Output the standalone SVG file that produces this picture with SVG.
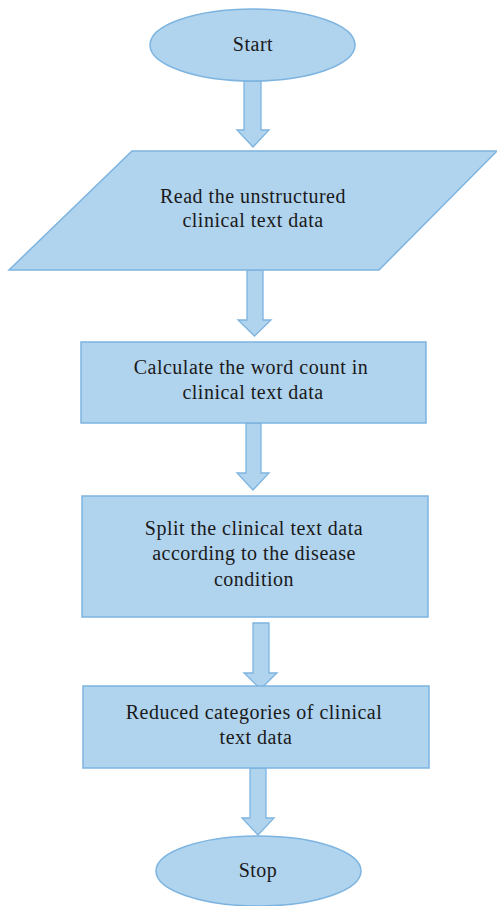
<svg xmlns="http://www.w3.org/2000/svg" width="497" height="906" viewBox="0 0 497 906">
  <style>
    .shape { fill: #b0d3ee; stroke: #7db4e0; stroke-width: 1.5; }
    .arrow { fill: #b0d3ee; stroke: #7db4e0; stroke-width: 1.3; stroke-linejoin: miter; }
    .label { font-family: 'Liberation Serif', serif; font-size: 20px; letter-spacing: 0.5px; fill: #1a1a1a; text-anchor: middle; }
  </style>
  <rect x="0" y="0" width="497" height="906" fill="#ffffff"/>

  <!-- block arrows between steps -->
  <g id="connectors">
    <polygon class="arrow" points="244,81 261,81 261,130 269,130 253,147 237,130 244,130"/>
    <polygon class="arrow" points="247,270 263,270 263,320 271,320 254.5,336 238,320 247,320"/>
    <polygon class="arrow" points="246,423 261,423 261,473 269,473 253,490 237,473 246,473"/>
    <polygon class="arrow" points="253,623 269,623 269,673 277,673 260.5,689 244,673 253,673"/>
    <polygon class="arrow" points="250,768 266,768 266,818 274,818 258,835 242,818 250,818"/>
  </g>

  <g id="start">
    <ellipse class="shape" cx="252.5" cy="45" rx="102.5" ry="36"/>
    <text class="label" font-family="Liberation Serif, serif" x="253" y="51">Start</text>
  </g>

  <g id="read-data">
    <polygon class="shape" points="132,151 497,151 379,270 9,270"/>
    <text class="label" font-family="Liberation Serif, serif" x="253" y="203">Read the unstructured</text>
    <text class="label" font-family="Liberation Serif, serif" x="253" y="227">clinical text data</text>
  </g>

  <g id="word-count">
    <rect class="shape" x="81" y="342" width="345" height="81"/>
    <text class="label" font-family="Liberation Serif, serif" x="251" y="374">Calculate the word count in</text>
    <text class="label" font-family="Liberation Serif, serif" x="253" y="399">clinical text data</text>
  </g>

  <g id="split-data">
    <rect class="shape" x="82" y="496" width="346" height="121"/>
    <text class="label" font-family="Liberation Serif, serif" x="254" y="535">Split the clinical text data</text>
    <text class="label" font-family="Liberation Serif, serif" x="254" y="560">according to the disease</text>
    <text class="label" font-family="Liberation Serif, serif" x="254" y="586">condition</text>
  </g>

  <g id="reduced-categories">
    <rect class="shape" x="83" y="686" width="346" height="82"/>
    <text class="label" font-family="Liberation Serif, serif" x="254" y="719">Reduced categories of clinical</text>
    <text class="label" font-family="Liberation Serif, serif" x="256" y="744">text data</text>
  </g>

  <g id="stop">
    <ellipse class="shape" cx="258.5" cy="871" rx="102.5" ry="35"/>
    <text class="label" font-family="Liberation Serif, serif" x="258" y="877">Stop</text>
  </g>
</svg>
